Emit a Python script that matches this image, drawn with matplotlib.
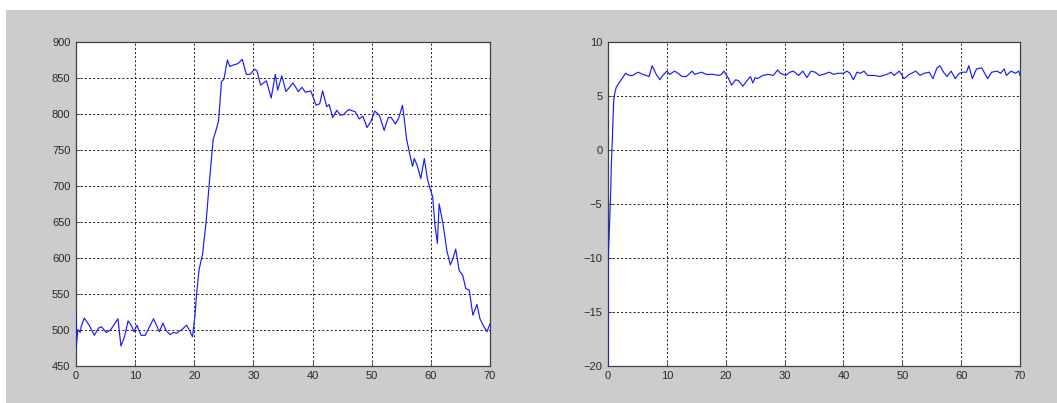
import matplotlib
matplotlib.use("Agg")
import matplotlib.pyplot as plt
from matplotlib.patches import Rectangle

# left plot: value
t_left = [0, 0.05, 0.3, 0.7, 0.9, 1.4, 2.3, 3.1, 3.8, 4.3, 5.1, 5.8, 7.1, 7.6, 8.2, 8.8,
          9.4, 9.8, 10.3, 11.0, 11.7, 13.1, 14.1, 14.7, 15.2, 15.9, 16.5, 17.0, 17.9, 18.7,
          19.3, 19.7, 20.1, 20.4, 20.8, 21.4, 22.0, 22.5, 23.2, 23.6, 24.1, 24.6, 25.0, 25.6,
          26.0, 26.6, 27.4, 28.1, 28.8, 29.4, 30.2, 30.6, 31.2, 32.2, 33.0, 33.7, 34.1, 34.8,
          35.5, 36.7, 37.6, 38.2, 38.8, 39.7, 40.6, 41.2, 41.7, 42.4, 42.8, 43.4, 44.1, 44.7,
          45.2, 46.1, 47.2, 47.9, 48.5, 49.2, 49.9, 50.5, 51.3, 52.1, 52.8, 53.3, 54.0, 54.6,
          55.2, 55.5, 55.9, 56.4, 56.9, 57.2, 57.7, 58.3, 58.9, 59.4, 59.9, 60.3, 60.7, 61.1,
          61.4, 62.1, 62.7, 63.3, 63.8, 64.2, 64.8, 65.4, 65.9, 66.5, 67.1, 67.8, 68.3, 68.9,
          69.5, 70.0]
v_left = [520, 476, 500, 496, 505, 516, 505, 492, 502, 504, 496, 499, 515, 477, 490, 512,
          505, 497, 506, 492, 492, 515, 497, 509, 499, 493, 496, 495, 500, 506,
          497, 490, 518, 550, 583, 605, 650, 700, 765, 775, 790, 845, 848, 875,
          866, 868, 870, 876, 855, 855, 862, 860, 840, 846, 822, 855, 833, 853,
          831, 843, 831, 837, 830, 832, 812, 814, 832, 810, 813, 795, 805, 798,
          799, 806, 803, 793, 797, 781, 790, 804, 798, 777, 795, 795, 786, 795,
          812, 793, 765, 745, 727, 738, 728, 710, 738, 710, 695, 685, 645, 620,
          675, 645, 610, 590, 600, 612, 582, 575, 557, 555, 520, 535, 515, 505,
          497, 508]

# right plot
t_right = [0, 0.05, 0.28, 0.45, 0.57, 0.74, 0.96, 1.13, 1.4, 2.0, 2.5, 3.0, 3.6, 4.2, 5.1,
           5.9, 7.0, 7.5, 8.2, 8.8, 9.3, 10.0, 10.5, 11.3, 11.9, 12.6, 13.3, 14.3, 14.7,
           15.9, 16.7, 17.8, 18.8, 19.3, 19.7, 20.4, 21.0, 21.7, 22.2, 22.9, 23.6, 24.2,
           24.6, 25.0, 25.4, 26.3, 27.2, 28.1, 28.8, 29.3, 30.2, 30.9, 31.5, 32.4, 33.1,
           33.8, 34.5, 35.2, 35.9, 36.6, 37.6, 38.3, 39.1, 40.0, 40.6, 41.1, 41.7, 42.3,
           42.9, 43.5, 44.1, 45.2, 46.2, 47.4, 48.1, 48.6, 49.5, 50.3, 51.2, 52.3, 53.0,
           53.7, 54.6, 55.2, 55.9, 56.4, 57.0, 57.6, 58.3, 59.0, 59.7, 60.3, 60.9, 61.3,
           61.9, 62.6, 63.5, 64.5, 65.2, 66.1, 66.7, 67.3, 67.7, 68.5, 69.2, 69.8, 70.0]
v_right = [-20, -10, -6.7, -4.0, -1.3, 1.0, 4.5, 5.2, 5.8, 6.3, 6.7, 7.1, 6.9, 6.9, 7.2,
           7.0, 6.8, 7.8, 7.0, 6.5, 6.9, 7.3, 7.0, 7.3, 7.1, 6.8, 6.8, 7.3, 7.0,
           7.2, 7.0, 7.0, 6.9, 7.0, 7.3, 6.7, 6.0, 6.5, 6.4, 5.9, 6.4, 6.8,
           6.2, 6.7, 6.6, 6.9, 7.0, 6.9, 7.4, 7.1, 6.9, 7.2, 7.3, 6.9, 7.3,
           6.7, 7.3, 7.2, 6.9, 7.0, 7.2, 7.0, 7.1, 7.1, 7.3, 7.1, 6.5, 7.2,
           7.1, 7.3, 6.9, 6.9, 6.8, 7.0, 7.2, 6.9, 7.3, 6.6, 7.0, 7.3, 6.9,
           7.1, 7.2, 6.6, 7.6, 7.8, 7.2, 6.8, 7.3, 6.6, 7.1, 7.2, 7.2, 7.8,
           6.6, 7.5, 7.6, 6.6, 7.2, 7.3, 7.1, 7.5, 6.9, 7.3, 7.1, 7.3, 6.9]

left_yticks = list(range(450, 901, 50))
right_yticks = list(range(-20, 11, 5))
xticks = list(range(0, 71, 10))

W, H = 1057, 403
fig = plt.figure(figsize=(W / 100, H / 100), dpi=100, facecolor="white")
fig.patches.append(Rectangle((6 / W, 0), 1, (H - 10) / H, transform=fig.transFigure,
                             facecolor="#cccccc", edgecolor="none", zorder=-10))

ax1 = fig.add_axes([76 / W, (H - 365.5) / H, 414 / W, 323.5 / H])
ax2 = fig.add_axes([608 / W, (H - 365.5) / H, 412 / W, 323.5 / H])

for ax, t, v, yt in [(ax1, t_left, v_left, left_yticks), (ax2, t_right, v_right, right_yticks)]:
    ax.plot(t, v, color="#1a1aff", lw=0.85, zorder=3)
    ax.set_xlim(0, 70)
    ax.set_ylim(yt[0], yt[-1])
    ax.set_xticks(xticks)
    ax.set_yticks(yt)
    ax.grid(True, color="black", linestyle=(0, (2.5, 2.5)), lw=0.6)
    ax.set_axisbelow(True)
    ax.tick_params(direction="in", length=3, width=0.6, color="#404040",
                   labelsize=8, labelcolor="#2a2a2a", pad=4)
    for lab in ax.get_xticklabels() + ax.get_yticklabels():
        lab.set_family("Liberation Sans")
    for sp in ax.spines.values():
        sp.set_color("#404040")
        sp.set_linewidth(0.9)

fig.savefig("out.png", dpi=100, facecolor=fig.get_facecolor())
